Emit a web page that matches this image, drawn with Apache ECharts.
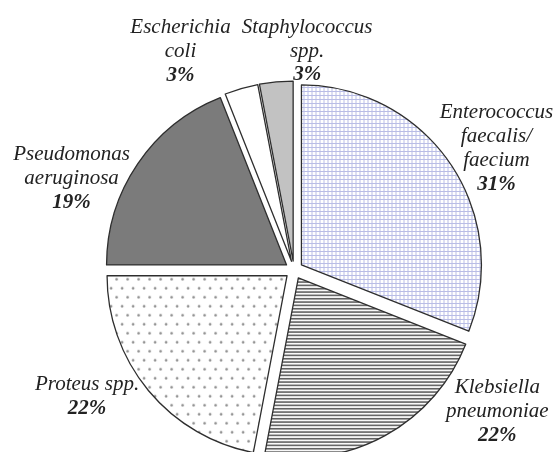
<!DOCTYPE html>
<html>
<head>
<meta charset="utf-8">
<script src="https://cdn.jsdelivr.net/npm/echarts@6/dist/echarts.min.js"></script>
<style>
html,body{margin:0;padding:0;background:#fff;}
#chart{width:555px;height:452px;}
</style>
</head>
<body>
<div id="chart"></div>
<script>
var categories = ["Enterococcus faecalis/ faecium", "Klebsiella pneumoniae", "Proteus spp.", "Pseudomonas aeruginosa", "Escherichia coli", "Staphylococcus spp."];
var labelLines = ["Enterococcus\nfaecalis/\nfaecium", "Klebsiella\npneumoniae", "Proteus spp.", "Pseudomonas\naeruginosa", "Escherichia\ncoli", "Staphylococcus\nspp."];
var percents = [31, 22, 22, 19, 3, 3];

// label anchor centres (style only)
var labelPos = [[489, 154], [493, 404], [94, 391], [79, 184], [183, 60], [308, 60]];

function makePattern(w, h, draw) {
  var c = document.createElement('canvas');
  c.width = w; c.height = h;
  var ctx = c.getContext('2d');
  ctx.fillStyle = '#ffffff';
  ctx.fillRect(0, 0, w, h);
  draw(ctx);
  return { image: c, repeat: 'repeat' };
}
var gridPat = makePattern(4, 4, function (ctx) {
  ctx.fillStyle = '#b9bde6';
  ctx.fillRect(0, 0, 4, 1);
  ctx.fillRect(0, 0, 1, 4);
});
var stripePat = makePattern(10, 10, function (ctx) {
  ctx.fillStyle = '#5e5e5e';
  ctx.fillRect(0, 0, 10, 1.6);
  ctx.fillRect(0, 3.3, 10, 1.6);
  ctx.fillRect(0, 6.6, 10, 1.6);
});
var dotPat = makePattern(11, 18, function (ctx) {
  ctx.fillStyle = '#8a8a8a';
  ctx.beginPath(); ctx.arc(2.5, 3.5, 1.3, 0, Math.PI * 2); ctx.fill();
  ctx.beginPath(); ctx.arc(8, 12.5, 1.3, 0, Math.PI * 2); ctx.fill();
});
var fills = [gridPat, stripePat, dotPat, '#7b7b7b', '#ffffff', '#c2c2c2'];

var data = categories.map(function (n, i) {
  return {
    name: n,
    value: percents[i],
    selected: true,
    itemStyle: { color: fills[i] },
    select: { itemStyle: { color: fills[i], borderColor: '#2e2e2e', borderWidth: 1.3 } }
  };
});

var chart = echarts.init(document.getElementById('chart'), null, { renderer: 'canvas' });
chart.setOption({
  animation: false,
  backgroundColor: '#ffffff',
  series: [{
    type: 'pie',
    center: [294, 270],
    radius: [0, 180],
    startAngle: 90,
    clockwise: true,
    selectedMode: 'multiple',
    selectedOffset: 9,
    avoidLabelOverlap: false,
    itemStyle: { borderColor: '#2e2e2e', borderWidth: 1.3 },
    emphasis: { disabled: true },
    label: {
      show: true,
      position: 'outside',
      formatter: function (p) {
        return '{n|' + labelLines[p.dataIndex].split('\n').join('}\n{n|') + '}\n{p|' + p.value + '%}';
      },
      rich: {
        n: { fontFamily: 'Liberation Serif', fontStyle: 'italic', fontSize: 21, color: '#222', lineHeight: 24, align: 'center' },
        p: { fontFamily: 'Liberation Serif', fontStyle: 'italic', fontWeight: 'bold', fontSize: 21, color: '#222', lineHeight: 24, align: 'center' }
      }
    },
    labelLine: { show: false },
    labelLayout: function (params) {
      var pos = labelPos[params.dataIndex];
      var r = params.labelRect;
      return {
        dx: pos[0] - (r.x + r.width / 2),
        dy: pos[1] - (r.y + r.height / 2),
        hideOverlap: false
      };
    },
    data: data
  }]
});
</script>
</body>
</html>
